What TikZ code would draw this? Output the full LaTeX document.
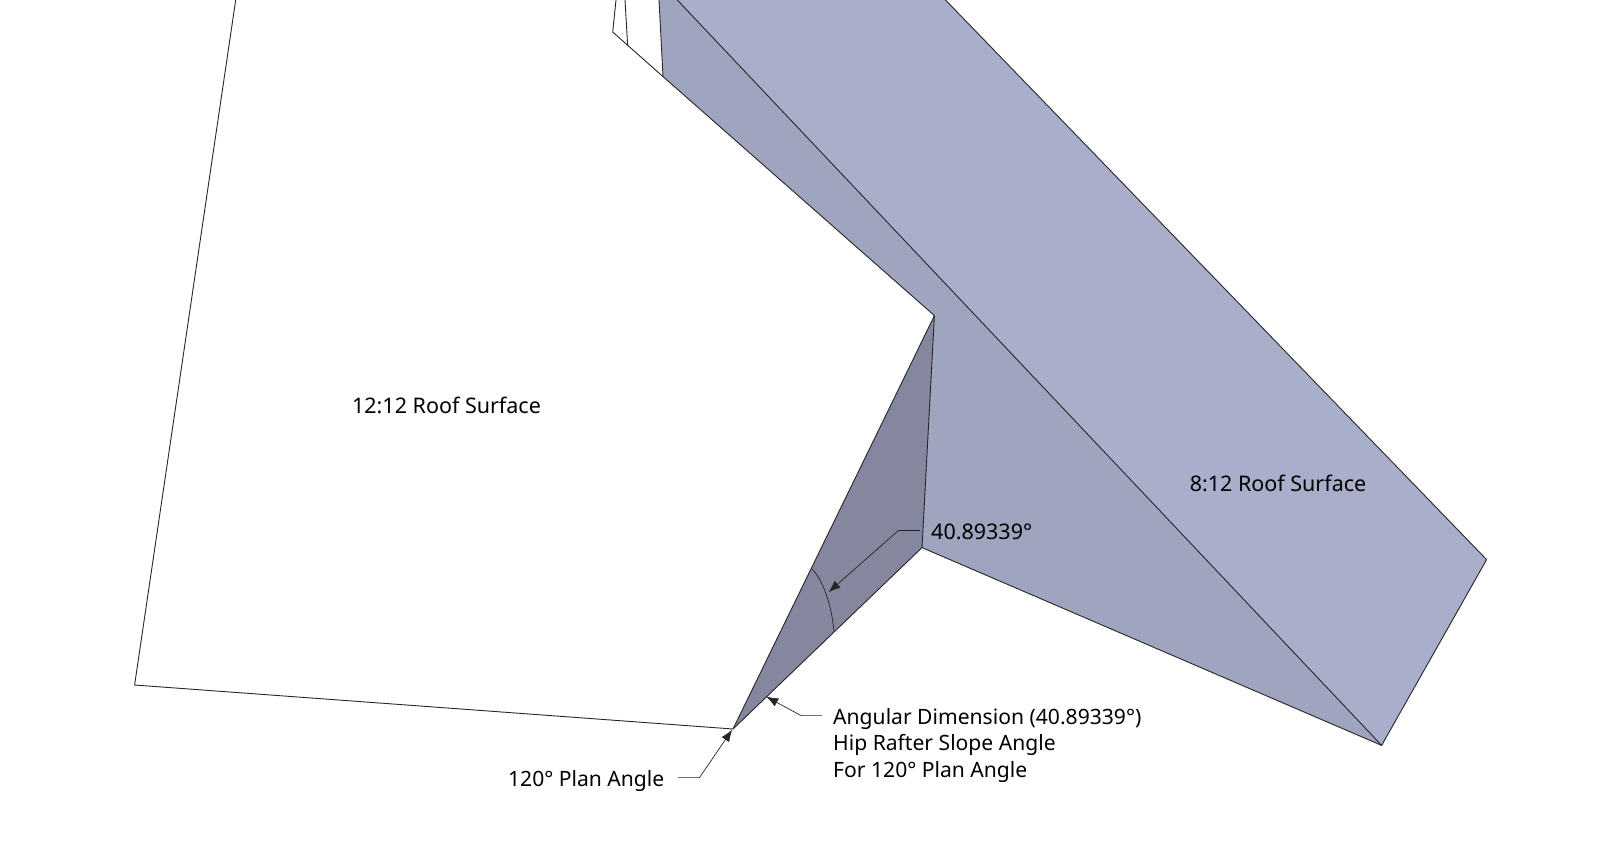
\documentclass[tikz,border=0pt]{standalone}
\usepackage{fontspec}
\setmainfont{Noto Sans}
\usetikzlibrary{arrows.meta}
\definecolor{roofA}{HTML}{A9AECB}
\definecolor{roofB}{HTML}{9FA4BF}
\definecolor{roofC}{HTML}{84879E}
\tikzset{
  edge/.style={draw=black!85,line width=0.9pt,line join=round},
  leader/.style={draw=black!85,line width=0.7pt},
  leadarrow/.style={leader,-{Latex[length=12pt,width=9pt]}},
  lab/.style={font=\fontsize{21.5}{26.5}\selectfont,text=black,inner sep=0pt,align=left},
  labs/.style={lab,font=\fontsize{21.1}{26.5}\selectfont}
}
\begin{document}
\begin{tikzpicture}[x=1pt,y=-1pt]
\useasboundingbox (0,0) rectangle (1600,844);
\coordinate (tl) at (235.7,0);
\coordinate (bl) at (134.6,685);
\coordinate (apex) at (733,729);
\coordinate (ridge) at (934.4,315.6);
\coordinate (eave) at (663,76.6);
\coordinate (c1) at (612.7,32);
\coordinate (c1t) at (616,0);
\coordinate (c2) at (627.7,46);
\coordinate (c2t) at (625,0);
\coordinate (c3t) at (659,0);
\coordinate (b1) at (677.3,0);
\coordinate (b2) at (945.5,0);
\coordinate (b3) at (1486.6,559.6);
\coordinate (b4) at (1381.6,745.4);
\coordinate (hip) at (922,547.6);
\coordinate (a1) at (811.9,569);
\coordinate (a2) at (828.5,592.2);
\coordinate (a3) at (834,631.6);
\coordinate (l1) at (898.5,530.4);
\coordinate (l1e) at (920.2,530.4);
\coordinate (l2) at (801,715.6);
\coordinate (l2e) at (822,715.6);
\coordinate (l2t) at (766.2,696.6);
\coordinate (l3) at (699.5,777.6);
\coordinate (l3e) at (677.5,777.6);
\coordinate (l3t) at (732.2,729.6);
% faces
\fill[roofA] (b1) -- (b2) -- (b3) -- (b4) -- cycle;
\fill[roofB] (c3t) -- (b1) -- (b4) -- (hip) -- (ridge) -- (eave) -- cycle;
\fill[roofC] (ridge) -- (hip) -- (apex) -- cycle;
% edges
\draw[edge] (tl) -- (bl) -- (apex) -- (ridge) -- (eave) -- (c1) -- (c1t);
\draw[edge] (c2) -- (c2t);
\draw[edge] (eave) -- (c3t);
\draw[edge] (b1) -- (b4) -- (b3) -- (b2);
\draw[edge] (b4) -- (hip) -- (ridge);
\draw[edge] (hip) -- (apex);
\draw[leader] (a1) .. controls (820.3,576.5) and (831.2,600) .. (a3);
% leaders
\draw[leadarrow] (l1e) -- (l1) -- (a2);
\draw[leadarrow] (l2e) -- (l2) -- (l2t);
\draw[leadarrow] (l3e) -- (l3) -- (l3t);
% labels
\node[lab,anchor=center] (s12) at (446.5,405) {12:12 Roof Surface};
\node[lab,anchor=center] (s8) at (1278,483) {8:12 Roof Surface};
\node[lab,anchor=west] (ang) at (931,531.5) {40.89339°};
\node[labs,anchor=west] (dim) at (833,745.5) {Angular Dimension (40.89339°)\\Hip Rafter Slope Angle\\For 120° Plan Angle};
\node[labs,anchor=east] (plan) at (664.5,780.5) {120° Plan Angle};
\end{tikzpicture}
\end{document}
